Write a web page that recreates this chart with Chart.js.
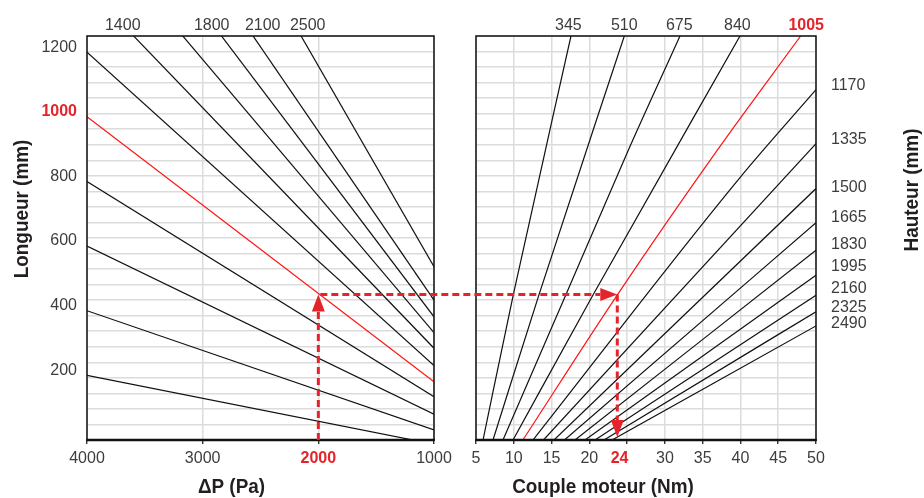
<!DOCTYPE html>
<html><head><meta charset="utf-8">
<script src="https://cdn.jsdelivr.net/npm/chart.js@4.4.1/dist/chart.umd.min.js"></script>
<style>
html,body{margin:0;padding:0;background:#fff;}
#wrap{position:relative;width:924px;height:498px;}
#wrap canvas{position:absolute;left:0;top:0;}
</style></head><body>
<div id="wrap"><canvas id="left" width="924" height="498"></canvas><canvas id="right" width="924" height="498"></canvas></div>
<script>
// ---------- data ----------
const deltaPTicks = [4000, 3000, 2000, 1000];
const longueurTicks = [200, 400, 600, 800, 1000, 1200];
const longueurLines = [200, 400, 600, 800, 1000, 1200, 1400, 1600, 1800, 2000, 2400];   // mm at ΔP = 4000 Pa
const longueurAt1000Pa = [-13, 31, 80, 134, 180, 230, 284, 332, 381, 433, 536];        // mm at ΔP = 1000 Pa
const longueurTopLabels = ['1400', '1800', '2100', '2500'];
const longueurTopLabelPa = [3691, 2922, 2481, 2092];

const coupleTicks = [5, 10, 15, 20, 24, 30, 35, 40, 45, 50];
const coupleGrid = [5, 10, 15, 20, 25, 30, 35, 40, 45, 50];
const hauteurLabels = ['345','510','675','840','1005','1170','1335','1500','1665','1830','1995','2160','2325','2490'];
const hauteurCurves = [            // [Nm, mm] points along each Hauteur line
  [[5.93,0],[9.94,450],[17.57,1250]],
  [[7.25,0],[13.34,450],[24.63,1250]],
  [[8.57,0],[16.91,450],[25.17,897],[32.0,1250]],
  [[9.9,0],[20.52,450],[39.94,1250]],
  [[11.2,0],[23.73,450],[36.94,897],[47.97,1250]],
  [[12.54,0],[39.94,812],[50,1084]],
  [[13.93,0],[50,917]],
  [[15.32,0],[50,778]],
  [[16.71,0],[50,672]],
  [[18.10,0],[50,587]],
  [[19.42,0],[50,510]],
  [[20.75,0],[50,448]],
  [[21.94,0],[50,397]],
  [[23.0,0],[50,353]]
];
const hauteurTopLabelNm = [17.22, 24.63, 31.9, 39.6, 48.7];
const hauteurSideLabelMm = [1098, 928, 781, 689, 605, 536, 469, 410, 361];
const exampleDeltaP = 2000, exampleLongueur = 450, exampleCouple = 23.7;
const highlightLongueur = 1000, highlightHauteur = '1005', highlightDeltaP = 2000, highlightCouple = 24;
const mmMax = 1250;

// ---------- style ----------
const FONT = "'Liberation Sans',Arial,Helvetica,sans-serif";
const RED = '#e5232a', LINE_RED = '#ff1414', INK = '#111', TXT = '#3d3d3d', GRID = '#dcdcdc';
Chart.defaults.font.family = FONT;
const tickFont = (bold) => ({ family: FONT, size: 16, weight: bold ? 'bold' : 'normal' });
const hGridTicks = s => { s.ticks = Array.from({length: 27}, (_, k) => ({ value: k * mmMax / 26 })); };

const framePlugin = {
  id: 'frame',
  afterDatasetsDraw(chart) {
    const { ctx, chartArea: a } = chart;
    ctx.save();
    ctx.strokeStyle = INK; ctx.lineWidth = 1.5;
    ctx.strokeRect(a.left, a.top, a.right - a.left, a.bottom - a.top);
    ctx.lineWidth = 2.5;
    ctx.beginPath(); ctx.moveTo(a.left - 0.75, a.bottom); ctx.lineTo(a.right + 0.75, a.bottom); ctx.stroke();
    ctx.restore();
  }
};
function drawTitle(ctx, text, x, y, rot) {
  ctx.save();
  ctx.translate(x, y); if (rot) ctx.rotate(rot);
  ctx.scale(0.9, 1);
  ctx.font = "bold 21px " + FONT; ctx.fillStyle = '#231f20';
  ctx.textAlign = 'center'; ctx.textBaseline = 'middle';
  ctx.fillText(text, 0, 0);
  ctx.restore();
}

// ---------- left chart ----------
const leftChart = new Chart(document.getElementById('left'), {
  type: 'scatter',
  data: { datasets: longueurLines.map((L, i) => ({
    data: [{ x: 4000, y: L }, { x: 1000, y: longueurAt1000Pa[i] }],
    showLine: true, borderColor: L === highlightLongueur ? LINE_RED : INK,
    borderWidth: 1.2, pointRadius: 0
  })) },
  options: {
    responsive: false, animation: false, events: [],
    layout: { padding: { left: 0, right: 490, top: 0, bottom: 0 } },
    plugins: { legend: { display: false }, tooltip: { enabled: false } },
    scales: {
      x: { type: 'linear', position: 'bottom', reverse: true, min: 1000, max: 4000,
        afterBuildTicks: s => { s.ticks = deltaPTicks.map(v => ({ value: v })); },
        afterFit: s => { s.height = 58; },
        grid: { color: GRID, lineWidth: 1.5, tickLength: 4, tickColor: INK, tickWidth: 1.2 },
        border: { display: false },
        ticks: { autoSkip: false, maxRotation: 0, padding: 5,
          font: c => tickFont(c.tick && c.tick.value === highlightDeltaP),
          color: c => c.tick && c.tick.value === highlightDeltaP ? RED : TXT,
          callback: v => String(v) } },
      xt: { type: 'linear', position: 'top', reverse: true, min: 1000, max: 4000,
        afterBuildTicks: s => { s.ticks = longueurTopLabelPa.map(v => ({ value: v })); },
        afterFit: s => { s.height = 36; },
        grid: { display: false, drawTicks: false }, border: { display: false },
        ticks: { autoSkip: false, maxRotation: 0, padding: 1, font: tickFont(false), color: TXT,
          callback: (v, i) => longueurTopLabels[i] } },
      y: { type: 'linear', position: 'left', min: 0, max: mmMax,
        afterBuildTicks: s => { s.ticks = longueurTicks.map(v => ({ value: v })); },
        afterFit: s => { s.width = 87; },
        grid: { display: false, drawTicks: false }, border: { display: false },
        ticks: { padding: 10, labelOffset: -5,
          font: c => tickFont(c.tick && c.tick.value === highlightLongueur),
          color: c => c.tick && c.tick.value === highlightLongueur ? RED : TXT,
          callback: v => String(v) } },
      yg: { type: 'linear', position: 'right', min: 0, max: mmMax,
        afterBuildTicks: hGridTicks, afterFit: s => { s.width = 0; },
        grid: { color: GRID, lineWidth: 1.5, drawTicks: false }, border: { display: false },
        ticks: { display: false } }
    }
  },
  plugins: [framePlugin, {
    id: 'leftTitles',
    afterDraw(chart) {
      const a = chart.chartArea;
      drawTitle(chart.ctx, 'Longueur (mm)', 22, 209, -Math.PI / 2);
      drawTitle(chart.ctx, 'ΔP (Pa)', (a.left + a.right) / 2 - 29, 487, 0);
    }
  }]
});

// ---------- right chart ----------
const arrowPlugin = {
  id: 'arrows',
  afterDraw(chart) {
    const ctx = chart.ctx;
    const lx = leftChart.scales.x, ly = leftChart.scales.y;
    const rx = chart.scales.x, ry = chart.scales.y;
    const xA = lx.getPixelForValue(exampleDeltaP), yA = ly.getPixelForValue(exampleLongueur), yA0 = ly.getPixelForValue(0);
    const xB = rx.getPixelForValue(exampleCouple), yB = ry.getPixelForValue(exampleLongueur), yB0 = ry.getPixelForValue(0) - 3;
    const len = 17, half = 6.5;
    ctx.save();
    ctx.strokeStyle = RED; ctx.fillStyle = RED; ctx.lineWidth = 3; ctx.setLineDash([7, 4]);
    ctx.beginPath();
    ctx.moveTo(xA, yA0); ctx.lineTo(xA, yA + len);
    ctx.moveTo(xA + 2, yA); ctx.lineTo(xB - len, yB);
    ctx.moveTo(xB, yB); ctx.lineTo(xB, yB0 - len);
    ctx.stroke();
    ctx.setLineDash([]);
    ctx.beginPath();
    ctx.moveTo(xA, yA); ctx.lineTo(xA - half, yA + len); ctx.lineTo(xA + half, yA + len); ctx.closePath();
    ctx.moveTo(xB, yB); ctx.lineTo(xB - len, yB - half); ctx.lineTo(xB - len, yB + half); ctx.closePath();
    ctx.moveTo(xB, yB0); ctx.lineTo(xB - half, yB0 - len); ctx.lineTo(xB + half, yB0 - len); ctx.closePath();
    ctx.fill();
    ctx.restore();
  }
};

const rightChart = new Chart(document.getElementById('right'), {
  type: 'scatter',
  data: { datasets: hauteurCurves.map((pts, i) => ({
    data: pts.map(p => ({ x: p[0], y: p[1] })),
    showLine: true, borderColor: hauteurLabels[i] === highlightHauteur ? LINE_RED : INK,
    borderWidth: 1.2, pointRadius: 0, cubicInterpolationMode: 'monotone'
  })) },
  options: {
    responsive: false, animation: false, events: [],
    layout: { padding: { left: 476, right: 0, top: 0, bottom: 0 } },
    plugins: { legend: { display: false }, tooltip: { enabled: false } },
    scales: {
      x: { type: 'linear', position: 'bottom', min: 5, max: 50,
        afterBuildTicks: s => {
          const vals = Array.from(new Set([...coupleTicks, ...coupleGrid])).sort((a, b) => a - b);
          s.ticks = vals.map(v => ({ value: v }));
        },
        afterFit: s => { s.height = 58; },
        grid: { lineWidth: 1.5, tickLength: 4, tickWidth: 1.2,
          color: c => c.tick && coupleGrid.includes(c.tick.value) ? GRID : 'rgba(0,0,0,0)',
          tickColor: c => c.tick && coupleGrid.includes(c.tick.value) ? INK : 'rgba(0,0,0,0)' },
        border: { display: false },
        ticks: { autoSkip: false, maxRotation: 0, padding: 5,
          font: c => tickFont(c.tick && c.tick.value === highlightCouple),
          color: c => c.tick && c.tick.value === highlightCouple ? RED : TXT,
          callback: v => coupleTicks.includes(v) ? String(v) : '' } },
      xt: { type: 'linear', position: 'top', min: 5, max: 50,
        afterBuildTicks: s => { s.ticks = hauteurTopLabelNm.map(v => ({ value: v })); },
        afterFit: s => { s.height = 36; },
        grid: { display: false, drawTicks: false }, border: { display: false },
        ticks: { autoSkip: false, maxRotation: 0, padding: 1,
          font: c => tickFont(hauteurLabels[c.index] === highlightHauteur),
          color: c => hauteurLabels[c.index] === highlightHauteur ? RED : TXT,
          callback: (v, i) => hauteurLabels[i] } },
      y: { type: 'linear', position: 'left', min: 0, max: mmMax,
        afterBuildTicks: hGridTicks, afterFit: s => { s.width = 0; },
        grid: { color: GRID, lineWidth: 1.5, drawTicks: false }, border: { display: false },
        ticks: { display: false } },
      yr: { type: 'linear', position: 'right', min: 0, max: mmMax,
        afterBuildTicks: s => { s.ticks = hauteurSideLabelMm.map(v => ({ value: v })); },
        afterFit: s => { s.width = 108; },
        grid: { display: false, drawTicks: false }, border: { display: false },
        ticks: { autoSkip: false, padding: 15, font: tickFont(false), color: TXT,
          callback: (v, i) => hauteurLabels[i + hauteurTopLabelNm.length] } }
    }
  },
  plugins: [framePlugin, {
    id: 'rightTitles',
    afterDraw(chart) {
      const a = chart.chartArea;
      drawTitle(chart.ctx, 'Couple moteur (Nm)', (a.left + a.right) / 2 - 43, 487, 0);
      drawTitle(chart.ctx, 'Hauteur (mm)', 912, 190, -Math.PI / 2);
    }
  }, arrowPlugin]
});
</script>
</body></html>
